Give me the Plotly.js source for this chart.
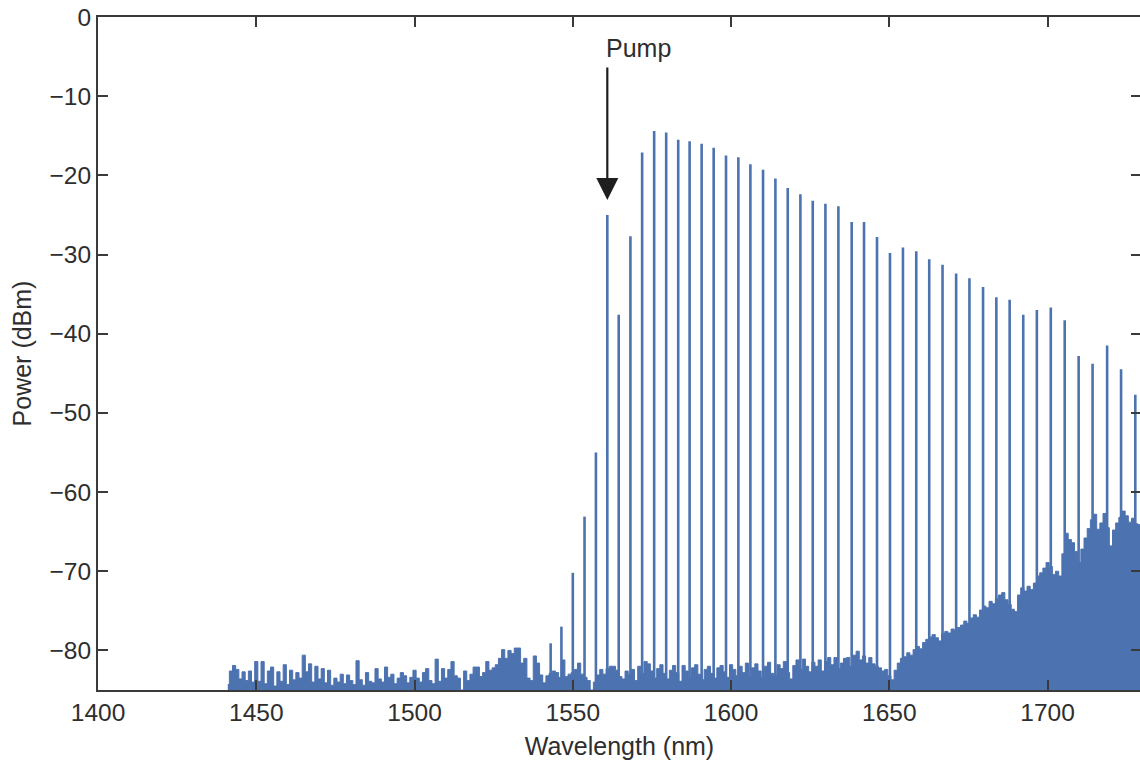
<!DOCTYPE html>
<html>
<head>
<meta charset="utf-8">
<script src="https://cdn.plot.ly/plotly-3.0.1.min.js"></script>
<style>
  html, body { margin: 0; padding: 0; overflow: hidden; background: #fff; }
  #chart { width: 1150px; height: 761px; }
</style>
</head>
<body>
<div id="chart"></div>
<script>
// ---- Data ----
// Noise floor of the optical spectrum, sampled every 1 nm starting at 1441 nm (dBm)
const NOISE_X0 = 1441;
const NOISE_DX = 1;
const NOISE_DBM = [
  -84.3,-82.6,-81.9,-82.4,-83.6,-82.7,-83.8,-82.6,-84.0,-81.4,
  -83.9,-81.4,-84.2,-82.6,-82.1,-84.5,-82.7,-83.9,-81.8,-84.3,
  -82.5,-83.7,-82.8,-83.5,-80.6,-82.7,-81.7,-84.0,-82.0,-83.6,
  -82.3,-84.1,-82.5,-84.4,-83.5,-84.0,-83.0,-84.2,-83.1,-83.8,
  -84.3,-81.3,-83.7,-84.4,-82.8,-83.9,-84.1,-82.3,-83.6,-84.0,
  -82.1,-83.4,-83.0,-84.2,-83.5,-82.8,-83.2,-84.1,-83.4,-82.5,
  -83.5,-84.0,-82.8,-82.3,-83.8,-84.2,-81.1,-83.9,-82.3,-83.5,
  -82.4,-81.4,-83.2,-83.5,-85.0,-82.6,-83.8,-83.0,-82.1,-82.1,
  -83.3,-82.8,-81.4,-82.5,-82.2,-81.8,-81.0,-79.9,-81.0,-80.0,
  -80.4,-79.7,-79.7,-81.6,-81.0,-83.5,-83.8,-80.7,-81.6,-83.1,
  -84.1,-83.2,-82.9,-82.6,-82.8,-83.4,-81.2,-83.3,-83.0,-82.8,
  -82.4,-81.6,-83.0,-83.4,-83.8,-85.0,-84.0,-83.1,-82.4,-83.0,
  -82.3,-82.0,-82.0,-82.5,-83.3,-83.6,-82.6,-83.0,-82.4,-83.8,
  -82.0,-82.9,-81.4,-81.7,-82.6,-83.5,-82.3,-81.8,-82.9,-83.6,
  -82.5,-81.9,-82.8,-83.9,-81.9,-82.6,-83.4,-82.2,-81.8,-83.0,
  -83.7,-82.4,-82.0,-82.9,-83.5,-82.2,-81.9,-82.7,-83.4,-81.8,
  -82.4,-83.2,-82.0,-82.8,-81.6,-83.3,-82.2,-81.7,-82.6,-83.4,
  -82.0,-81.5,-82.9,-83.2,-81.8,-82.3,-81.4,-82.8,-83.6,-81.9,
  -81.2,-82.4,-81.1,-82.0,-82.7,-81.5,-82.0,-81.2,-82.6,-81.4,
  -80.9,-81.8,-80.9,-82.3,-81.6,-81.0,-80.9,-82.0,-80.6,-80.1,
  -81.2,-80.7,-81.6,-80.9,-81.7,-82.0,-82.2,-82.6,-82.4,-83.2,
  -83.7,-82.5,-81.6,-81.0,-80.8,-80.3,-80.6,-79.9,-79.5,-79.8,
  -79.0,-78.6,-78.3,-78.0,-78.4,-78.8,-77.9,-77.6,-77.8,-77.3,
  -77.5,-77.1,-76.8,-76.3,-76.6,-75.9,-75.5,-75.8,-74.9,-74.4,
  -74.6,-73.8,-74.1,-73.4,-73.0,-72.7,-73.6,-74.2,-74.8,-75.1,
  -73.0,-72.1,-72.5,-71.9,-72.3,-71.5,-70.6,-70.2,-69.6,-68.9,
  -69.4,-70.4,-70.0,-70.6,-67.8,-65.2,-66.0,-66.4,-67.5,-68.9,
  -67.2,-65.8,-64.6,-63.5,-62.8,-64.7,-63.9,-62.7,-64.5,-66.8,
  -64.8,-63.9,-63.2,-62.4,-63.0,-63.8,-63.3,-64.0,-64.1,-64.5
];

// Comb lines: wavelength (nm) and peak power (dBm)
const COMB_WL = [
  1543.0,1546.4,1550.0,1553.7,1557.3,1560.9,1564.5,1568.2,1571.9,1575.7,
  1579.5,1583.3,1586.9,1590.7,1594.5,1598.4,1602.3,1606.1,1610.1,1614.0,
  1617.9,1621.9,1625.8,1629.8,1633.9,1638.1,1642.0,1646.1,1650.2,1654.3,
  1658.5,1662.6,1666.8,1671.1,1675.3,1679.6,1683.8,1688.0,1692.3,1696.6,
  1701.0,1705.4,1709.8,1714.2,1718.8,1723.2,1727.7
];
const COMB_DBM = [
  -79.1,-77.0,-70.2,-63.1,-55.0,-25.0,-37.6,-27.7,-17.1,-14.4,
  -14.6,-15.5,-15.7,-16.0,-16.5,-17.5,-17.7,-18.6,-19.3,-20.4,
  -21.6,-22.4,-23.2,-23.6,-23.9,-25.9,-25.9,-27.8,-29.8,-29.1,
  -29.6,-30.6,-31.3,-32.4,-33.0,-34.1,-35.4,-35.7,-37.6,-37.0,
  -36.7,-38.3,-42.8,-43.8,-41.5,-44.5,-47.7
];
const PUMP_INDEX = 5;           // the comb line marked "Pump"
const PUMP_LABEL = "Pump";

const X_RANGE = [1400, 1729.5];
const Y_RANGE = [-85, 0];
const X_TICKS = [1400, 1450, 1500, 1550, 1600, 1650, 1700];
const Y_TICKS = [-80, -70, -60, -50, -40, -30, -20, -10, 0];
const X_TITLE = "Wavelength (nm)";
const Y_TITLE = "Power (dBm)";

// ---- Styling ----
const BLUE = "#4C72B0";
const INK = "#2e2e2e";
const FONT = "Liberation Sans, Arial, Helvetica, sans-serif";

// ---- Traces ----
const noiseEnd = NOISE_X0 + (NOISE_DBM.length - 1) * NOISE_DX;
const baseline = {
  type: "scatter", mode: "lines",
  x: [NOISE_X0, noiseEnd], y: [Y_RANGE[0], Y_RANGE[0]],
  line: { width: 0, color: BLUE }, hoverinfo: "skip", showlegend: false
};
const noise = {
  type: "scatter", mode: "lines",
  x0: NOISE_X0, dx: NOISE_DX, y: NOISE_DBM,
  fill: "tonexty", fillcolor: BLUE,
  line: { color: BLUE, width: 1, shape: "hvh" }, showlegend: false
};
const combX = [], combY = [];
COMB_WL.forEach((wl, i) => {
  combX.push(wl, wl, null);
  combY.push(Y_RANGE[0], COMB_DBM[i], null);
});
const comb = {
  type: "scatter", mode: "lines",
  x: combX, y: combY,
  line: { color: BLUE, width: 2.6 }, showlegend: false
};

const axisCommon = {
  showline: true, linecolor: "#3a3a3a", linewidth: 2, mirror: "ticks",
  ticks: "inside", ticklen: 10, tickwidth: 2, tickcolor: "#3a3a3a",
  showgrid: false, zeroline: false,
  tickfont: { family: FONT, size: 24.5, color: INK }
};

const pumpWL = COMB_WL[PUMP_INDEX];
const pumpDBM = COMB_DBM[PUMP_INDEX];

const layout = {
  width: 1150, height: 761,
  margin: { l: 98, r: 9, t: 17, b: 71 },
  paper_bgcolor: "#ffffff", plot_bgcolor: "#ffffff",
  font: { family: FONT, color: INK },
  showlegend: false,
  xaxis: Object.assign({}, axisCommon, {
    range: X_RANGE, tickmode: "array", tickvals: X_TICKS,
    title: { text: X_TITLE, font: { family: FONT, size: 25, color: INK }, standoff: 12 }
  }),
  yaxis: Object.assign({}, axisCommon, {
    range: Y_RANGE, tickmode: "array", tickvals: Y_TICKS,
    title: { text: Y_TITLE, font: { family: FONT, size: 25, color: INK }, standoff: 11 }
  }),
  annotations: [
    {
      x: pumpWL, y: pumpDBM + 1.9, xref: "x", yref: "y",
      ax: pumpWL, ay: -6.2, axref: "x", ayref: "y",
      text: "", showarrow: true,
      arrowhead: 2, arrowsize: 2, arrowwidth: 2.2, arrowcolor: "#1e1e1e", standoff: 0
    },
    {
      x: pumpWL, y: -3.9, xref: "x", yref: "y",
      xanchor: "left", yanchor: "middle", xshift: -3,
      text: PUMP_LABEL, showarrow: false,
      font: { family: FONT, size: 25, color: INK }
    }
  ]
};

Plotly.newPlot("chart", [baseline, noise, comb], layout, { displayModeBar: false, staticPlot: true });
</script>
</body>
</html>
